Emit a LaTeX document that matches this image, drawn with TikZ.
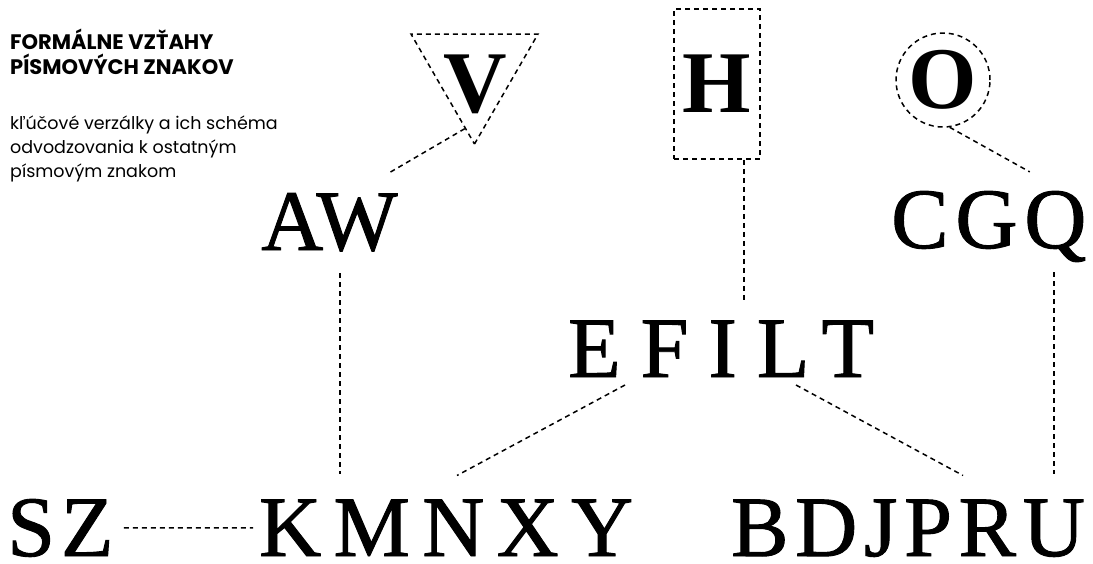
\documentclass[tikz,border=0pt]{standalone}
\usepackage{fontspec}
\setmainfont{Liberation Serif}
\newfontfamily\headfont{Poppins}
\usetikzlibrary{
  shapes.geometric,
  calc
}

\tikzset{
  link/.style={line width=1.5pt, dash pattern=on 5pt off 4pt},
  keyframe/.style={draw, line width=1.5pt, dash pattern=on 5pt off 4pt},
  group/.style={inner sep=0pt, anchor=base west,
    font=\fontsize{86}{86}\selectfont\addfontfeature{LetterSpace=#1,FakeBold=1.1}},
  keyletter/.style={inner sep=0pt, font=\bfseries\fontsize{88}{88}\selectfont},
  headline/.style={inner sep=0pt, anchor=base west,
    font=\headfont\bfseries\fontsize{21}{25}\selectfont},
  subline/.style={inner sep=0pt, anchor=base west,
    font=\headfont\fontsize{17.5}{24}\selectfont}
}

\begin{document}
\begin{tikzpicture}[x=1pt, y=-1pt]

\useasboundingbox (0,0) rectangle (1093,563);

% Heading
\node[headline] (title1) at (10,49) {FORMÁLNE VZŤAHY};
\node[headline] (title2) at (10,74) {PÍSMOVÝCH ZNAKOV};
\node[subline] (sub1) at (10,129) {kľúčové verzálky a ich schéma};
\node[subline] (sub2) at (10,153) {odvodzovania k ostatným};
\node[subline] (sub3) at (10,177) {písmovým znakom};

% Key capitals
\node[keyframe, regular polygon, regular polygon sides=3, shape border rotate=180,
  minimum size=146.6pt, inner sep=0pt] (vtri) at (474.5,70.7) {};
\node[keyletter, anchor=base] (v) at (475,112) {V};
\node[keyframe, keyletter, minimum width=86pt, minimum height=150pt] (hbox) at (717,84) {H};
\node[keyframe, keyletter, circle, minimum size=94pt] (ocirc) at (943,80) {O};

% Derived letter groups
\node[group=0] (aw) at (261,250) {AW};
\node[group=8] (cgq) at (891,248) {CGQ};
\node[group=23.2] (efilt) at (568,377) {EFILT};
\node[group=7] (sz) at (7,556) {SZ};
\node[group=14.3] (kmnxy) at (259,556) {KMNXY};
\node[group=7.8] (bdjpru) at (731,556) {BDJPRU};

% Connectors
\draw[link] ($(vtri.corner 1)!.15!(vtri.corner 3)$) -- ($(aw.north east)+(-9,-20)$);
\draw[link] ($(hbox.south east)+(-17,0)$) coordinate (hfoot)
  -- ($(hfoot |- efilt.north)+(0,-20)$);
\draw[link] (ocirc.-82) -- ($(cgq.north east)+(-57,-19)$);
\draw[link] ($(aw.base west)+(79,23)$) coordinate (awfoot)
  -- ($(awfoot |- kmnxy.north)+(0,-25)$);
\draw[link] ($(cgq.base west)+(163,24)$) coordinate (qfoot)
  -- ($(qfoot |- bdjpru.north)+(0,-25)$);
\draw[link] ($(efilt.base west)+(57,8)$) -- ($(kmnxy.north west)+(198,-24)$);
\draw[link] ($(efilt.base west)+(228,8)$) -- ($(bdjpru.north west)+(232,-24)$);
\draw[link] ($(sz.east)+(10,0)$) -- ($(kmnxy.west)+(-6,0)$);

\end{tikzpicture}
\end{document}
